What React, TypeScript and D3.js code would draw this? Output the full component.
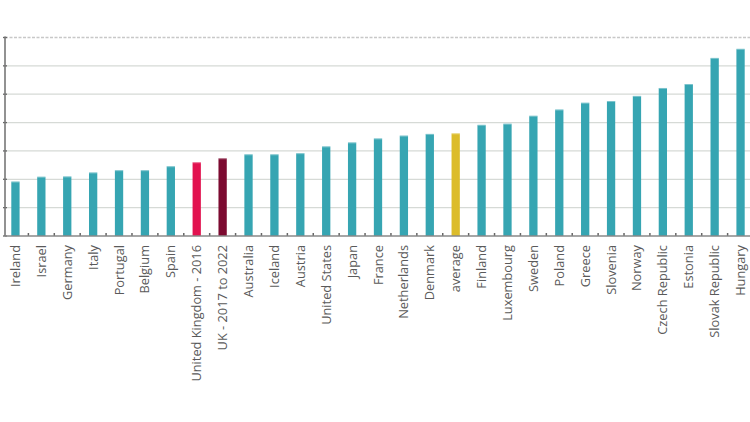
import React from "react";
import * as d3 from "d3";

const categories = [
  "Ireland", "Israel", "Germany", "Italy", "Portugal", "Belgium", "Spain",
  "United Kingdom - 2016", "UK - 2017 to 2022", "Australia", "Iceland", "Austria",
  "United States", "Japan", "France", "Netherlands", "Denmark", "average",
  "Finland", "Luxembourg", "Sweden", "Poland", "Greece", "Slovenia", "Norway",
  "Czech Republic", "Estonia", "Slovak Republic", "Hungary",
];
const values = [
  9.6, 10.45, 10.5, 11.2, 11.6, 11.6, 12.3,
  13.0, 13.7, 14.4, 14.4, 14.6,
  15.8, 16.5, 17.2, 17.7, 18.0, 18.1,
  19.6, 19.8, 21.2, 22.3, 23.5, 23.8, 24.7,
  26.1, 26.8, 31.4, 33.0,
];
const yTicks = [0, 5, 10, 15, 20, 25, 30, 35];

const W = 750;
const H = 422;
const left = 5;
const top = 37.5;
const baseline = 236;

const colorFor = (c: string) =>
  c === "United Kingdom - 2016" ? "#e2124f" :
  c === "UK - 2017 to 2022" ? "#7c0a30" :
  c === "average" ? "#dcbc2a" : "#36a5b2";

export default function App() {
  const x = d3.scaleBand<string>().domain(categories).range([2.5, 753.5]).padding(0);
  const y = d3.scaleLinear().domain([0, 35]).range([baseline, top]);
  const step = x.step();
  const bw = step * 0.32;

  return (
    <svg width={W} height={H} style={{ position: "absolute", left: 0, top: 0, display: "block", background: "#fff" }}>
      {yTicks.slice(1).map((t) => (
        <line key={"g" + t} x1={left} x2={W} y1={y(t)} y2={y(t)}
          stroke={t === 35 ? "#c8c8c8" : "#d6dad6"} strokeWidth={1.3}
          strokeDasharray={t === 35 ? "3,1.5" : undefined} />
      ))}
      {categories.map((c, i) => {
        const cx = (x(c) as number) + step / 2;
        const yt = y(values[i]);
        return (
          <g key={c}>
            <rect x={cx - bw / 2} y={yt} width={bw} height={baseline - yt} fill={colorFor(c)} />
            <rect x={cx - bw / 2} y={yt} width={bw} height={1} fill="#ffffff" opacity={0.35} />
          </g>
        );
      })}
      {categories.slice(1).map((c) => (
        <line key={"xt" + c} x1={x(c) as number} x2={x(c) as number} y1={baseline} y2={baseline - 3}
          stroke="#666" strokeWidth={1.5} />
      ))}
      {yTicks.map((t) => (
        <line key={"yt" + t} x1={left - 2} x2={left + 2} y1={y(t)} y2={y(t)} stroke="#666" strokeWidth={1.3} />
      ))}
      <line x1={left} x2={left} y1={top - 1} y2={baseline} stroke="#777" strokeWidth={1.6} />
      <line x1={left} x2={W} y1={baseline} y2={baseline} stroke="#888" strokeWidth={1.6} />
      {categories.map((c) => {
        const cx = (x(c) as number) + step / 2;
        return (
          <text key={"l" + c} transform={`translate(${cx + 4.5},${245}) rotate(-90)`}
            textAnchor="end" fontFamily="'Open Sans', sans-serif" fontSize={12.8} fill="#5a5a5a">
            {c}
          </text>
        );
      })}
    </svg>
  );
}
